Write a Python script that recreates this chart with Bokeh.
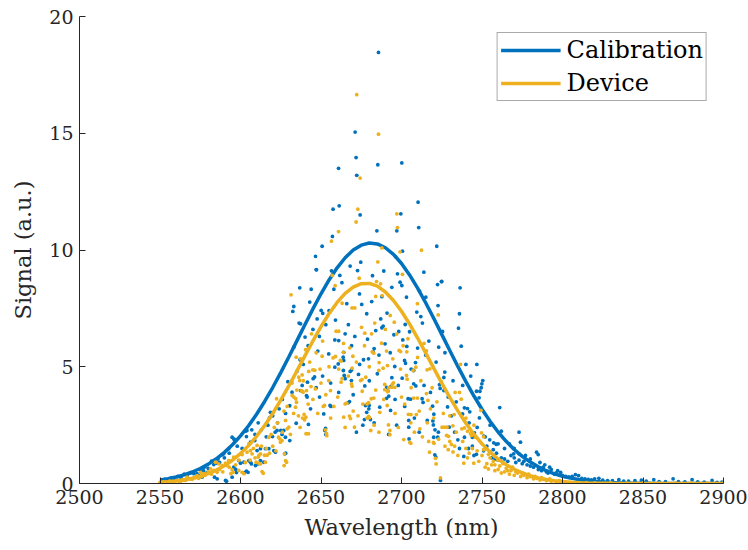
from bokeh.plotting import figure
from bokeh.models import Range1d, FixedTicker, Legend, LegendItem
from bokeh.embed import file_html
from bokeh.resources import INLINE

# ---------------- data ----------------
fit_wavelength = list(range(2550, 2901, 5))
calibration_fit = [0.149, 0.204, 0.277, 0.371, 0.492, 0.643, 0.830, 1.058, 1.333, 1.658,
                   2.038, 2.474, 2.966, 3.513, 4.110, 4.748, 5.419, 6.109, 6.801, 7.479,
                   8.125, 8.717, 9.237, 9.669, 9.997, 10.208, 10.297, 10.259, 10.096, 9.814,
                   9.421, 8.934, 8.368, 7.742, 7.075, 6.386, 5.694, 5.014, 4.361, 3.746,
                   3.179, 2.665, 2.206, 1.805, 1.457, 1.162, 0.916, 0.713, 0.548, 0.416,
                   0.312, 0.231, 0.169, 0.122, 0.087, 0.062, 0.043, 0.029, 0.020, 0.013,
                   0.009, 0.006, 0.004, 0.002, 0.0015, 0.001, 0.0006, 0.0004, 0.0002, 0.0001, 0.0001]
device_fit = [0.051, 0.076, 0.111, 0.159, 0.224, 0.312, 0.427, 0.575, 0.763, 0.997,
              1.282, 1.622, 2.022, 2.482, 2.999, 3.567, 4.177, 4.815, 5.464, 6.105,
              6.716, 7.272, 7.754, 8.139, 8.410, 8.556, 8.569, 8.450, 8.202, 7.840,
              7.375, 6.832, 6.230, 5.594, 4.944, 4.302, 3.686, 3.109, 2.581, 2.110,
              1.698, 1.345, 1.049, 0.806, 0.609, 0.454, 0.332, 0.240, 0.170, 0.119,
              0.082, 0.055, 0.037, 0.024, 0.016, 0.010, 0.006, 0.004, 0.0025, 0.0015,
              0.001, 0.0006, 0.0004, 0.0002, 0.0001, 0.0001, 0.0, 0.0, 0.0, 0.0, 0.0]

calibration_pts = [
    (2551, 0.12), (2553, 0.18), (2555, 0.15), (2557, 0.24), (2559, 0.20), (2561, 0.30), (2563, 0.26),
    (2565, 0.40), (2567, 0.33), (2569, 0.45), (2571, 0.50), (2573, 0.42), (2575, 0.60), (2577, 0.55),
    (2578, 0.72), (2580, 0.65), (2571, 0.42), (2574.1, 0.34), (2576.1, 0.27), (2577.2, 0.70),
    (2579.3, 0.48), (2582, 0.96), (2583.4, 0.81), (2583.9, 0.27), (2585.1, 0.87), (2585.5, 0.20),
    (2588.6, 1.23), (2589.6, 1.27), (2590.7, 0.13), (2591.3, 0.10), (2592.7, 1.49), (2594.8, 1.98),
    (2594.8, 0.27), (2595.8, 0.70), (2595.9, 1.91), (2596.3, 1.87), (2597.1, 0.60), (2597.5, 0.47),
    (2598.9, 0.98), (2600, 0.87), (2602.1, 0.91), (2602.5, 0.47), (2603.1, 2.24), (2603.7, 2.01),
    (2603.7, 0.53), (2604, 2.27), (2604.7, 0.48), (2605.2, 0.98), (2606.2, 0.91), (2606.2, 1.77),
    (2606.8, 0.84), (2608.9, 1.84), (2609.3, 0.77), (2610.3, 1.41), (2610.7, 0.84), (2612.4, 1.49),
    (2612.4, 0.98), (2614.5, 0.91), (2615.5, 1.49), (2617.6, 1.49), (2618, 2.81), (2618.6, 3.05),
    (2619.9, 2.01), (2620.7, 1.41), (2621.5, 2.20), (2621.7, 1.34), (2622.7, 2.27), (2625, 2.27),
    (2625.8, 2.10), (2626.9, 2.27), (2627.5, 1.27), (2627.9, 1.98), (2628.1, 1.30), (2629.4, 4.36),
    (2630.6, 3.33), (2630.6, 1.84), (2631.7, 4.37), (2632, 3.91), (2632.5, 7.37), (2633.1, 7.58),
    (2633.1, 5.84), (2634.6, 2.58), (2636.4, 6.87), (2636.8, 8.38), (2637.3, 6.84), (2637.3, 3.98),
    (2638.3, 4.20), (2640.1, 6.27), (2641, 3.76), (2641.4, 3.70), (2641.6, 4.34), (2642.2, 2.53),
    (2643, 7.77), (2643.9, 8.32), (2645.1, 4.49), (2646, 4.56), (2646.6, 9.73), (2647, 9.16),
    (2647.2, 9.15), (2647.6, 7.05), (2648, 5.67), (2649.1, 3.70), (2650.1, 7.41), (2650.7, 10.16),
    (2651.1, 7.29), (2651.7, 2.98), (2652.4, 2.27), (2652.8, 2.36), (2653, 2.10), (2654.8, 5.55),
    (2655.6, 3.34), (2656.2, 3.30), (2656.5, 9.11), (2657.1, 10.58), (2657.5, 11.75), (2658, 8.32),
    (2658.6, 6.15), (2658.6, 4.98), (2660.7, 5.12), (2660.9, 13.50), (2661, 6.12), (2661.3, 11.89),
    (2661.7, 8.91), (2663.8, 5.41), (2663.9, 4.84), (2664.1, 5.62), (2664.1, 5.27), (2664.4, 4.63),
    (2665, 6.41), (2665, 4.49), (2666.9, 3.46), (2667.7, 3.51), (2668.1, 9.31), (2668.1, 4.80),
    (2668.9, 4.41), (2669, 4.86), (2671.2, 15.05), (2671.8, 13.96), (2672.2, 13.20), (2672.7, 9.12),
    (2673.3, 4.67), (2673.9, 8.12), (2674.3, 11.50), (2674.7, 9.48), (2675.3, 7.67), (2676.4, 5.30),
    (2677, 2.74), (2677.2, 4.18), (2677.6, 3.34), (2678.4, 7.27), (2678.4, 3.05), (2678.9, 6.18),
    (2679.5, 5.34), (2679.7, 3.20), (2679.9, 3.34), (2680.7, 2.74), (2681.5, 7.79), (2682.4, 5.64),
    (2683, 5.78), (2684, 6.55), (2684.7, 10.82), (2685.3, 13.65), (2685.7, 18.46), (2686.5, 3.27),
    (2687.1, 7.05), (2687.8, 8.00), (2687.8, 6.67), (2688.6, 6.74), (2689.8, 5.98), (2690.7, 3.65),
    (2690.8, 4.12), (2691.5, 3.95), (2692.1, 3.74), (2693.2, 3.13), (2693.4, 4.15), (2694, 4.53),
    (2695.3, 6.37), (2695.8, 5.01), (2696.3, 9.72), (2697.1, 10.82), (2697.5, 8.98), (2698.3, 6.51),
    (2699.1, 8.62), (2699.6, 11.55), (2700.2, 13.73), (2700.2, 8.48), (2700.4, 4.51), (2700.6, 9.95),
    (2700.8, 6.15), (2701.9, 5.27), (2702.3, 6.81), (2702.5, 5.15), (2703.1, 7.98), (2703.3, 5.87),
    (2704.1, 3.63), (2704.5, 2.70), (2704.5, 2.41), (2704.7, 1.91), (2705.6, 3.61), (2707.6, 4.84),
    (2707.6, 4.27), (2708.7, 5.18), (2708.9, 4.18), (2709.5, 7.34), (2710.3, 12.05), (2710.7, 10.96),
    (2711.2, 8.24), (2712, 7.15), (2712.8, 3.63), (2713, 6.87), (2713.4, 3.47), (2713.9, 9.05),
    (2715.1, 7.98), (2719.3, 3.31), (2719.5, 2.68), (2719.8, 2.51), (2720, 1.98), (2720.1, 2.97),
    (2720.7, 1.23), (2720.8, 2.30), (2721.3, 1.13), (2721.5, 5.20), (2721.9, 10.16), (2722.4, 8.52),
    (2722.5, 1.98), (2722.7, 7.62), (2722.9, 2.20), (2723.1, 5.84), (2723.6, 4.23), (2724, 4.07),
    (2724.2, 0.13), (2724.8, 8.65), (2725, 8.65), (2725.5, 6.51), (2726.3, 4.54), (2726.3, 3.98),
    (2726.9, 4.77), (2728.6, 3.28), (2729.6, 2.41), (2735, 1.87), (2735.4, 6.65), (2736, 7.27),
    (2736.4, 8.38), (2737.1, 5.88), (2737.9, 2.98), (2738.7, 1.16), (2739.1, 3.24), (2739.1, 1.98),
    (2740, 5.10), (2741, 3.21), (2741.6, 1.50), (2742.4, 3.07), (2744, 1.98), (2745, 1.20),
    (2745.3, 2.17), (2746.5, 1.25), (2746.6, 3.95), (2746.8, 5.10), (2748.2, 3.67), (2748.4, 2.81),
    (2748.7, 3.95), (2749.5, 4.10), (2749.9, 4.27), (2750.5, 4.41), (2751.1, 2.03), (2752, 2.00),
    (2754.8, 1.87), (2755, 1.35), (2756, 1.10), (2757, 1.45), (2757.3, 1.74), (2758, 1.05),
    (2758.8, 1.68), (2760, 1.70), (2760, 1.00), (2761, 3.25), (2762, 2.24), (2762, 1.10),
    (2764, 1.05), (2766, 0.95), (2768, 1.20), (2769.7, 1.27), (2770, 1.10), (2771, 0.90),
    (2773, 2.20), (2773, 1.27), (2773, 1.00), (2773.9, 1.77), (2775, 0.85), (2776, 0.95),
    (2778, 0.80), (2780, 0.75), (2782, 0.70), (2783.9, 1.34), (2784.9, 1.24), (2785, 0.60),
    (2787, 0.55), (2788, 0.70), (2790, 0.50), (2791, 0.45), (2793, 0.60), (2795, 0.40),
    (2796, 0.45), (2798.8, 0.48), (2800, 0.35), (2802, 0.30), (2804, 0.28), (2806, 0.30),
    (2808, 0.38), (2810, 0.34), (2812, 0.22), (2814, 0.20), (2816, 0.18), (2818, 0.15),
    (2820, 0.20), (2822.6, 0.22), (2825, 0.14), (2828, 0.12), (2831, 0.12), (2835, 0.16),
    (2838, 0.10), (2841, 0.10), (2845, 0.12), (2849, 0.14), (2852, 0.10), (2856.7, 0.16),
    (2860, 0.08), (2864, 0.08), (2868.7, 0.20), (2872, 0.08), (2876, 0.07), (2880.5, 0.16),
    (2884, 0.07), (2888, 0.06), (2892.9, 0.13), (2896, 0.05), (2899, 0.06),
    (2586, 1.05), (2587, 0.90), (2590, 1.10), (2593, 1.30), (2598, 1.60), (2601, 1.50), (2607, 2.30),
    (2609, 2.10), (2611, 2.60), (2613, 2.30), (2616, 2.00), (2617, 2.50), (2620, 2.90), (2623, 2.60),
    (2624, 3.20), (2626, 3.60), (2628, 3.00), (2635, 4.80), (2637, 5.30), (2639, 5.10), (2642, 5.90),
    (2643.5, 3.20), (2645, 6.60), (2647, 4.10), (2649, 6.30), (2651, 4.60), (2653, 6.80), (2655, 7.40),
    (2656, 4.30), (2659, 7.00), (2661, 3.90), (2663, 8.60), (2666, 7.70), (2667, 6.80), (2669, 5.90),
    (2670, 3.80), (2671, 6.30), (2672, 2.20), (2674, 5.10), (2676, 2.50), (2680, 4.40), (2682, 8.90),
    (2683, 2.60), (2685, 4.70), (2686, 5.50), (2689, 9.10), (2691, 7.30), (2692, 2.10), (2693, 5.60),
    (2694, 8.40), (2696, 3.60), (2697, 2.50), (2698, 4.20), (2702, 3.30), (2705, 6.50), (2706, 4.90),
    (2708, 2.80), (2710, 5.80), (2711, 2.20), (2714, 4.20), (2715, 5.50), (2716, 2.70), (2717, 6.10),
    (2718, 3.90), (2727, 5.60), (2729, 3.70), (2731, 2.90), (2732, 4.40), (2733, 2.20), (2734, 3.50),
    (2736, 1.50), (2738, 4.20), (2742, 2.60), (2743, 4.60), (2744, 1.60), (2747, 2.40), (2751, 1.40),
    (2753, 1.60), (2755, 2.50), (2759, 1.30), (2764, 1.50), (2767, 1.70), (2770, 1.50), (2777, 1.20),
    (2780, 1.05), (2786, 0.90), (2789, 0.80), (2792, 0.70), (2797, 0.55),
]

device_pts = [
    (2550, 0.05), (2552, 0.07), (2554, 0.06), (2556, 0.10), (2558, 0.08), (2560, 0.12), (2562, 0.10),
    (2562.7, 0.09), (2564, 0.15), (2564.8, 0.13), (2566, 0.14), (2566.9, 0.27), (2568, 0.20),
    (2568.9, 0.20), (2570, 0.18), (2572, 0.25), (2573.1, 0.34), (2574, 0.22), (2575.2, 0.48),
    (2576, 0.30), (2577.2, 0.42), (2581.4, 0.63), (2583.4, 0.56), (2584.5, 0.91), (2585.5, 0.48),
    (2586.5, 0.84), (2588.6, 0.77), (2590.7, 0.87), (2591.7, 0.77), (2592.7, 0.98), (2594, 0.42),
    (2594.8, 0.59), (2595.4, 0.48), (2595.8, 1.13), (2598.9, 0.56), (2600, 1.27), (2601, 1.24),
    (2601, 0.48), (2602.1, 0.42), (2604.1, 1.34), (2605.2, 1.70), (2606.2, 1.41), (2607.2, 1.27),
    (2609.7, 0.91), (2610.3, 1.63), (2611, 1.13), (2611.4, 1.20), (2611.4, 0.87), (2612.4, 1.27),
    (2612.4, 0.84), (2613.4, 0.51), (2614.1, 0.44), (2614.9, 1.21), (2615.5, 0.91), (2616.5, 1.21),
    (2617.6, 1.98), (2622.4, 3.63), (2623.6, 1.98), (2624.4, 1.91), (2624.8, 1.77), (2625.8, 1.84),
    (2627.1, 0.77), (2627.3, 1.27), (2628, 0.98), (2628, 2.70), (2628.6, 0.91), (2629, 2.34),
    (2630, 2.41), (2631.4, 8.08), (2632.1, 3.77), (2633, 3.00), (2633.1, 3.70), (2634.2, 3.27),
    (2634.3, 3.63), (2634.6, 5.41), (2634.8, 3.48), (2636, 2.90), (2636.2, 4.55), (2636.8, 4.41),
    (2637.3, 5.34), (2637.7, 3.98), (2638.3, 4.65), (2638.3, 3.95), (2638.5, 2.80), (2638.9, 3.91),
    (2639.5, 2.96), (2639.8, 2.73), (2640.4, 5.73), (2640.6, 2.84), (2640.7, 2.13), (2641, 3.98),
    (2642.2, 2.13), (2642.4, 4.80), (2643.8, 4.15), (2644.1, 6.41), (2644.9, 4.87), (2646.1, 4.85),
    (2646.5, 4.05), (2649.4, 4.90), (2650.7, 5.45), (2651.4, 3.30), (2652.2, 3.34), (2652.8, 2.30),
    (2653.4, 2.15), (2653.6, 2.05), (2654.8, 4.41), (2655.9, 3.98), (2656.5, 10.38), (2657, 8.91),
    (2657.5, 5.38), (2658.8, 8.47), (2659, 5.44), (2659.4, 6.52), (2660.4, 3.70), (2660.9, 10.79),
    (2661, 6.52), (2662, 5.27), (2662.4, 5.24), (2662.5, 4.34), (2663.1, 7.72), (2663.1, 4.49),
    (2663.8, 5.62), (2664.1, 2.84), (2665, 3.41), (2666, 3.44), (2667.7, 2.89), (2667.9, 5.81),
    (2668.3, 2.78), (2668.9, 4.27), (2669.3, 7.52), (2669.3, 4.94), (2669.3, 4.17), (2669.8, 5.45),
    (2670.8, 2.41), (2671, 7.52), (2671.8, 11.20), (2672.2, 16.65), (2672.9, 11.75), (2673.7, 8.79),
    (2674.3, 13.08), (2674.6, 4.41), (2675.2, 6.69), (2675.5, 4.45), (2675.6, 3.95), (2677.2, 6.44),
    (2677.8, 4.55), (2678.6, 3.41), (2678.6, 2.80), (2679.6, 3.46), (2679.6, 2.87), (2680.1, 2.82),
    (2680.9, 2.27), (2681.2, 3.63), (2681.4, 6.41), (2681.8, 5.64), (2682.8, 5.58), (2682.8, 3.66),
    (2683.4, 6.87), (2684, 8.01), (2684.5, 8.65), (2685.3, 9.49), (2685.7, 14.96), (2685.9, 4.84),
    (2686.1, 5.18), (2686.5, 3.05), (2687, 8.55), (2687.6, 6.01), (2687.8, 10.09), (2688, 8.05),
    (2688.6, 4.94), (2689.6, 4.24), (2689.6, 4.02), (2690.7, 5.67), (2691.1, 3.34), (2691.3, 5.05),
    (2691.3, 3.94), (2691.9, 2.51), (2692.1, 4.10), (2692.8, 2.27), (2692.8, 2.09), (2694, 4.12),
    (2694.2, 4.24), (2694.6, 5.34), (2695, 4.31), (2695.5, 6.91), (2695.9, 4.12), (2697.1, 11.55),
    (2697.5, 10.96), (2698.5, 5.70), (2699.1, 9.92), (2699.4, 5.65), (2699.4, 4.90), (2700.6, 8.96),
    (2701.4, 1.88), (2703.1, 4.63), (2703.3, 5.64), (2703.5, 4.47), (2704.3, 2.96), (2705.2, 1.76),
    (2705.8, 2.60), (2705.8, 1.72), (2705.9, 2.95), (2707.2, 4.84), (2707.6, 3.66), (2708.9, 4.98),
    (2709.2, 2.95), (2709.9, 7.70), (2709.9, 3.66), (2711.4, 2.34), (2712.4, 9.99), (2715.5, 5.68),
    (2715.5, 3.85), (2715.9, 4.87), (2716.4, 3.56), (2716.9, 1.80), (2717.4, 1.34), (2717.6, 4.91),
    (2719.8, 1.76), (2720.2, 1.72), (2721.1, 1.08), (2721.5, 0.84), (2722.8, 7.22), (2724.2, 0.24),
    (2724.8, 4.35), (2725.2, 2.41), (2726.7, 2.41), (2728, 2.06), (2728.3, 2.41), (2729, 1.45),
    (2729.2, 2.02), (2730, 1.80), (2731, 1.67), (2731.9, 2.47), (2732, 1.35), (2732.7, 2.95),
    (2733, 1.60), (2733.3, 3.90), (2736, 3.90), (2736.6, 5.10), (2737.1, 3.61), (2737.5, 2.34),
    (2738.7, 0.87), (2739.1, 2.38), (2740, 1.50), (2741, 2.24), (2742, 1.30), (2742.9, 2.13),
    (2743.5, 2.06), (2744.9, 0.87), (2746, 1.98), (2747, 1.40), (2749.3, 3.13), (2749.7, 2.17),
    (2750, 1.20), (2751, 2.00), (2752, 0.70), (2753, 0.85), (2754, 0.62), (2755, 1.10),
    (2756, 0.80), (2757, 0.95), (2758, 0.55), (2760, 0.60), (2760, 1.00), (2762, 0.45),
    (2763, 0.85), (2764, 0.50), (2765, 0.65), (2767, 0.40), (2768, 0.55), (2770, 0.35),
    (2772, 0.45), (2774, 0.30), (2776, 0.35), (2778, 0.25), (2780, 0.30), (2782, 0.20),
    (2784, 0.22), (2786, 0.15), (2788, 0.18), (2790, 0.12), (2793, 0.10), (2796, 0.08),
    (2800, 0.06), (2805, 0.05), (2810, 0.04), (2815, 0.04), (2820, 0.03), (2830, 0.03),
    (2840, 0.02), (2850, 0.02), (2860, 0.02), (2870, 0.02), (2880, 0.02), (2890, 0.02), (2900, 0.02),
    (2578, 0.35), (2580, 0.50), (2582, 0.40), (2587, 0.60), (2589, 0.50), (2593, 0.70), (2597, 0.80),
    (2599, 1.00), (2603, 0.90), (2606, 1.00), (2608, 1.50), (2609, 1.10), (2613, 1.60), (2616, 1.50),
    (2618, 1.30), (2619, 2.10), (2620, 1.60), (2621, 2.40), (2622, 1.40), (2623, 2.60), (2626, 2.20),
    (2627, 3.10), (2629, 3.30), (2631, 2.10), (2632, 4.30), (2635, 4.00), (2637, 2.40), (2639, 4.40),
    (2642, 3.40), (2643, 5.20), (2645, 3.60), (2647, 5.60), (2648, 3.00), (2650, 4.30), (2651, 6.10),
    (2653, 3.80), (2655, 5.00), (2656, 2.80), (2658, 3.30), (2661, 4.90), (2664, 6.00), (2665, 2.40),
    (2667, 4.60), (2670, 3.10), (2672, 5.20), (2673, 2.90), (2676, 3.40), (2677, 5.90), (2680, 5.00),
    (2683, 2.50), (2684, 4.00), (2686, 2.20), (2689, 3.60), (2690, 6.60), (2693, 7.20), (2696, 3.00),
    (2697, 6.40), (2698, 2.40), (2700, 3.70), (2701, 5.90), (2702, 3.40), (2704, 6.20), (2706, 4.10),
    (2708, 2.20), (2710, 5.40), (2711, 3.10), (2712, 4.40), (2713, 2.00), (2714, 6.00), (2716, 2.60),
    (2718, 3.20), (2719, 4.10), (2720, 2.80), (2722, 3.50), (2723, 1.90), (2726, 3.00), (2727, 1.60),
    (2730, 2.90), (2734, 2.20), (2735, 1.20), (2738, 1.80), (2740, 2.80), (2741, 1.10), (2744, 1.50),
    (2745, 2.50), (2748, 0.95), (2751, 1.45), (2754, 1.25), (2758, 0.80), (2761, 0.75), (2766, 0.55),
    (2769, 0.70), (2771, 0.50), (2775, 0.45), (2779, 0.40), (2783, 0.30), (2787, 0.25), (2792, 0.20),
    (2798, 0.12),
]

x_ticks = [2500, 2550, 2600, 2650, 2700, 2750, 2800, 2850, 2900]
y_ticks = [0, 5, 10, 15, 20]
series_names = ["Calibration", "Device"]

# ---------------- style ----------------
BLUE = "#0072BD"
YELLOW = "#EDB120"
FONT = "'DejaVu Serif', serif"
AXC = "#262626"

p = figure(width=748, height=550, output_backend="svg", toolbar_location=None,
           x_range=Range1d(2500, 2900), y_range=Range1d(0, 20),
           min_border_left=79, min_border_right=25, min_border_top=16, min_border_bottom=67)
p.outline_line_color = None
p.xgrid.visible = False
p.ygrid.visible = False
p.background_fill_color = "white"
p.border_fill_color = "white"

cx = [a for a, b in calibration_pts]
cy = [b for a, b in calibration_pts]
dx = [a for a, b in device_pts]
dy = [b for a, b in device_pts]

p.scatter(cx, cy, marker="circle", size=3.8, fill_color=BLUE, line_color=None)
l1 = p.line(fit_wavelength, calibration_fit, line_color=BLUE, line_width=3.5)
p.scatter(dx, dy, marker="circle", size=3.8, fill_color=YELLOW, line_color=None)
l2 = p.line(fit_wavelength, device_fit, line_color=YELLOW, line_width=3.5)

for ax in (p.xaxis[0], p.yaxis[0]):
    ax.axis_line_color = AXC
    ax.axis_line_width = 1
    ax.major_tick_line_color = AXC
    ax.major_tick_in = 6
    ax.major_tick_out = 0
    ax.minor_tick_line_color = None
    ax.major_label_text_font = FONT
    ax.major_label_text_font_size = "19px"
    ax.major_label_text_color = AXC
    ax.axis_label_text_font = FONT
    ax.axis_label_text_font_size = "22.5px"
    ax.axis_label_text_font_style = "normal"
    ax.axis_label_text_color = AXC

p.xaxis[0].ticker = FixedTicker(ticks=x_ticks)
p.yaxis[0].ticker = FixedTicker(ticks=y_ticks)
p.xaxis[0].axis_label = "Wavelength (nm)"
p.yaxis[0].axis_label = "Signal (a.u.)"
p.xaxis[0].major_label_standoff = 6
p.yaxis[0].major_label_standoff = 6
p.xaxis[0].axis_label_standoff = 7
p.yaxis[0].axis_label_standoff = 10

legend = Legend(items=[LegendItem(label=series_names[0], renderers=[l1]),
                       LegendItem(label=series_names[1], renderers=[l2])],
                location="top_right", margin=16, padding=3, spacing=5,
                glyph_width=60, glyph_height=28, label_height=28, label_standoff=6,
                label_text_font=FONT, label_text_font_size="24px", label_text_color="black",
                border_line_color="#555555", border_line_width=1,
                background_fill_color="white", background_fill_alpha=1.0)
p.add_layout(legend)

open("out.html", "w").write(file_html(p, INLINE))
